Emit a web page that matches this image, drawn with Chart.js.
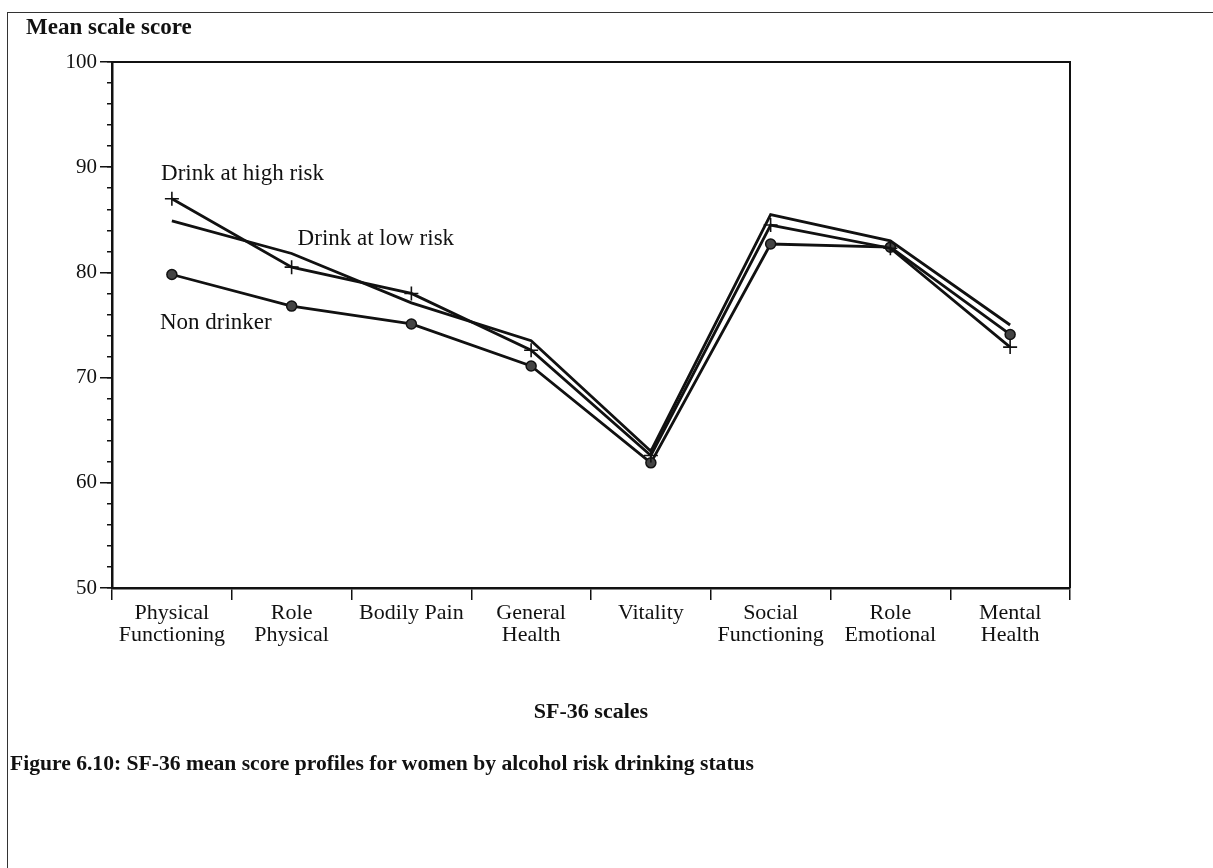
<!DOCTYPE html>
<html>
<head>
<meta charset="utf-8">
<script src="https://cdn.jsdelivr.net/npm/chart.js@4.4.1/dist/chart.umd.min.js"></script>
<style>
  html, body { margin: 0; padding: 0; background: #fff; }
  #wrap { position: relative; width: 1213px; height: 868px; overflow: hidden; }
  #frame { position: absolute; left: 7px; top: 12px; right: -5px; bottom: -5px;
           border-top: 1.5px solid #333; border-left: 1.5px solid #333; }
  canvas { position: absolute; left: 0; top: 0; }
  .txt { position: absolute; font-family: 'Liberation Serif', serif; font-weight: bold;
         line-height: 22px; color: #111; white-space: nowrap; }
  #ytitle { left: 26px; top: 16px; font-size: 23px; }
  #caption { left: 10px; top: 752px; font-size: 21.6px; }
</style>
</head>
<body>
<div id="wrap">
  <div id="frame"></div>
  <canvas id="chart" width="1213" height="868"></canvas>
  <div class="txt" id="ytitle">Mean scale score</div>
  <div class="txt" id="caption">Figure 6.10: SF-36 mean score profiles for women by alcohol risk drinking status</div>
</div>
<script>
// ---------- Data ----------
const categories = [
  ['Physical', 'Functioning'],
  ['Role', 'Physical'],
  'Bodily Pain',
  ['General', 'Health'],
  'Vitality',
  ['Social', 'Functioning'],
  ['Role', 'Emotional'],
  ['Mental', 'Health'],
];
const highRisk = [87.0, 80.5, 78.0, 72.6, 62.6, 84.5, 82.3, 72.9];
const lowRisk = [84.9, 81.8, 77.1, 73.5, 63.0, 85.5, 83.0, 75.0];
const nonDrinker = [79.8, 76.8, 75.1, 71.1, 61.9, 82.7, 82.4, 74.1];

const yMin = 50;
const yMax = 100;
const yMajorStep = 10;
const yMinorStep = 2;

// line labels, anchored in data space (category index, score)
const seriesNotes = [
  { text: 'Drink at high risk', x: -0.09, y: 89.4 },
  { text: 'Drink at low risk', x: 1.05, y: 83.2 },
  { text: 'Non drinker', x: -0.1, y: 75.2 },
];

const FONT = "'Liberation Serif', serif";
const INK = '#111';

// draws the box round the plot and the line labels
const extras = {
  id: 'extras',
  afterDraw(chart) {
    const { ctx, chartArea: a, scales } = chart;
    ctx.save();
    ctx.strokeStyle = INK;
    ctx.lineWidth = 2;
    ctx.beginPath();
    ctx.moveTo(a.left, a.top);
    ctx.lineTo(a.right, a.top);
    ctx.lineTo(a.right, a.bottom);
    ctx.stroke();

    ctx.fillStyle = INK;
    ctx.font = '23px ' + FONT;
    ctx.textAlign = 'left';
    ctx.textBaseline = 'middle';
    seriesNotes.forEach((n) => {
      ctx.fillText(n.text, scales.x.getPixelForValue(n.x), scales.y.getPixelForValue(n.y));
    });
    ctx.restore();
  },
};

const lineStyle = { borderColor: INK, borderWidth: 2.8, tension: 0, fill: false, yAxisID: 'y' };

new Chart(document.getElementById('chart'), {
  type: 'line',
  data: {
    labels: categories,
    datasets: [
      {
        ...lineStyle,
        label: 'Drink at high risk',
        data: highRisk,
        pointStyle: 'cross',
        pointRadius: 7,
        pointBorderWidth: 1.6,
        pointBorderColor: INK,
      },
      {
        ...lineStyle,
        label: 'Drink at low risk',
        data: lowRisk,
        pointRadius: 0,
      },
      {
        ...lineStyle,
        label: 'Non drinker',
        data: nonDrinker,
        pointStyle: 'circle',
        pointRadius: 5,
        pointBorderWidth: 1.5,
        pointBorderColor: INK,
        pointBackgroundColor: '#444',
      },
    ],
  },
  options: {
    responsive: false,
    animation: false,
    events: [],
    layout: { padding: { left: 0, right: 143, top: 62, bottom: 145 } },
    plugins: { legend: { display: false }, tooltip: { enabled: false } },
    scales: {
      x: {
        offset: true,
        grid: { offset: true, drawOnChartArea: false, tickLength: 12, color: INK, lineWidth: 1.5 },
        border: { color: INK, width: 2.5 },
        ticks: {
          color: INK,
          font: { family: FONT, size: 22, lineHeight: 1.0 },
          padding: 2,
          maxRotation: 0,
          autoSkip: false,
        },
        title: {
          display: true,
          text: 'SF-36 scales',
          color: INK,
          font: { family: FONT, size: 22, weight: 'bold', lineHeight: 1.0 },
          padding: 0,
        },
        afterFit: (s) => { s.height = 135; },
      },
      y: {
        position: 'left',
        weight: 1,
        min: yMin,
        max: yMax,
        grid: { drawOnChartArea: false, tickLength: 12, color: INK, lineWidth: 1.5 },
        border: { color: INK, width: 2.5 },
        ticks: {
          stepSize: yMajorStep,
          color: INK,
          font: { family: FONT, size: 21 },
          padding: 3,
        },
        afterFit: (s) => { s.width = 112; },
      },
      yMinor: {
        position: 'left',
        weight: 0,
        min: yMin,
        max: yMax,
        grid: { drawOnChartArea: false, tickLength: 5, color: INK, lineWidth: 1.5 },
        border: { display: false },
        ticks: { stepSize: yMinorStep, display: false },
        afterFit: (s) => { s.width = 0; },
      },
    },
  },
  plugins: [extras],
});
</script>
</body>
</html>
